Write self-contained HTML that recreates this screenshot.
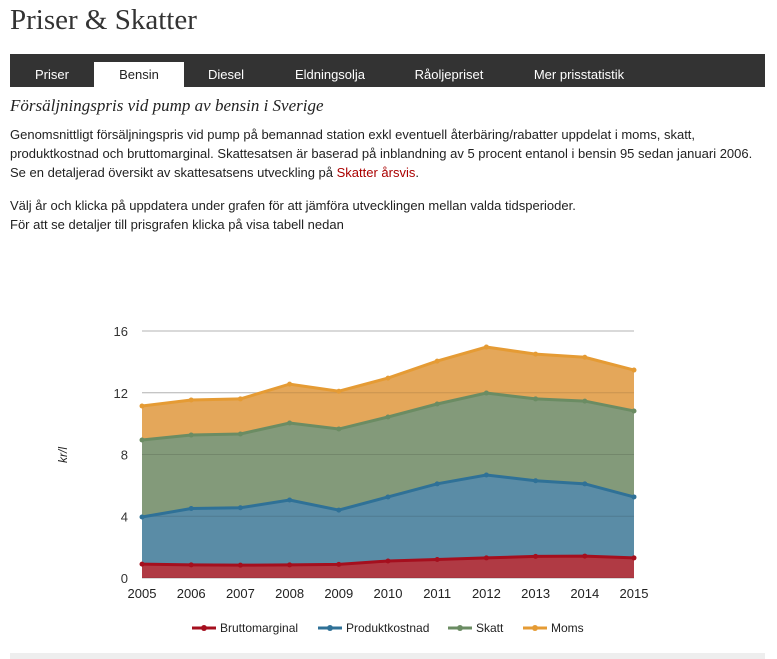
<!DOCTYPE html>
<html><head><meta charset="utf-8"><style>
body{margin:0;width:777px;height:659px;background:#fff;font-family:"Liberation Sans",sans-serif;color:#222;position:relative;overflow:hidden}
h1{position:absolute;left:10px;top:4px;margin:0;font:normal 29px "Liberation Serif",serif;color:#333}
#tabs{position:absolute;left:10px;top:54px;width:755px;height:33px;background:#333}
.tab{position:absolute;top:8px;height:25px;line-height:25px;color:#fff;font-size:13px;text-align:center}
.tab.active{background:#fff;color:#222}
h2{position:absolute;left:10px;top:96px;margin:0;font:italic 17px "Liberation Serif",serif;color:#222}
.p{position:absolute;left:10px;font-size:13px;line-height:19px;color:#222;width:760px}
a{color:#a00;text-decoration:none}
#foot{position:absolute;left:10px;top:653px;width:755px;height:6px;background:#eee}
</style></head><body>
<h1>Priser &amp; Skatter</h1>
<div id="tabs">
<div class="tab" style="left:0;width:84px">Priser</div>
<div class="tab active" style="left:84px;width:90px">Bensin</div>
<div class="tab" style="left:180px;width:72px">Diesel</div>
<div class="tab" style="left:270px;width:100px">Eldningsolja</div>
<div class="tab" style="left:389px;width:100px">Råoljepriset</div>
<div class="tab" style="left:499px;width:140px">Mer prisstatistik</div>
</div>
<h2>Försäljningspris vid pump av bensin i Sverige</h2>
<div class="p" style="top:125px">Genomsnittligt försäljningspris vid pump på bemannad station exkl eventuell återbäring/rabatter uppdelat i moms, skatt, produktkostnad och bruttomarginal. Skattesatsen är baserad på inblandning av 5 procent entanol i bensin 95 sedan januari 2006. Se en detaljerad översikt av skattesatsens utveckling på <a>Skatter årsvis</a>.</div>
<div class="p" style="top:196px">Välj år och klicka på uppdatera under grafen för att jämföra utvecklingen mellan valda tidsperioder.<br>För att se detaljer till prisgrafen klicka på visa tabell nedan</div>
<svg id="chart" width="777" height="659" style="position:absolute;left:0;top:0"></svg>
<div id="foot"></div>
<script>
const years=[2005,2006,2007,2008,2009,2010,2011,2012,2013,2014,2015];
const brutto=[0.9,0.85,0.83,0.85,0.88,1.1,1.2,1.3,1.4,1.42,1.3];
const produkt=[3.05,3.65,3.72,4.2,3.52,4.15,4.9,5.37,4.9,4.68,3.95];
const skatt=[4.99,4.76,4.78,4.99,5.25,5.18,5.17,5.31,5.3,5.36,5.57];
const moms=[2.2,2.27,2.27,2.52,2.45,2.52,2.78,2.98,2.9,2.84,2.65];
const yTicks=[0,4,8,12,16];
const names=["Bruttomarginal","Produktkostnad","Skatt","Moms"];
const fills=["#b03a44","#5a8ca6","#839a7a","#e4a75a"];
const lines=["#a50f1e","#2f7197","#6b8c63","#e59b34"];
const svg=document.getElementById('chart');const NS='http://www.w3.org/2000/svg';
const X=i=>142+i*(634-142)/(years.length-1);
const Y=v=>578-v*(578-331)/16;
function mk(t,a){const e=document.createElementNS(NS,t);for(const k in a)e.setAttribute(k,a[k]);svg.appendChild(e);return e;}
yTicks.forEach(t=>{const g=mk('line',{x1:142,x2:634,y1:Y(t),y2:Y(t),stroke:'#ccc','stroke-width':1});


const l=mk('text',{x:128,y:Y(t)+5,'text-anchor':'end','font-size':13,fill:'#333'});l.textContent=t;

});
const series=[brutto,produkt,skatt,moms];let base=years.map(()=>0);
const layers=[];
series.forEach((s,k)=>{const top=s.map((v,i)=>base[i]+v);layers.push({top,bot:base.slice()});base=top;});
layers.forEach((L,k)=>{let d='M'+years.map((_,i)=>X(i)+','+Y(L.top[i])).join('L');
for(let i=years.length-1;i>=0;i--)d+='L'+X(i)+','+Y(L.bot[i]);d+='Z';
const a=mk('path',{d,fill:fills[k]});

});
yTicks.forEach(t=>{const g=mk('line',{x1:142,x2:634,y1:Y(t),y2:Y(t),stroke:'rgba(0,0,0,0.12)','stroke-width':1});

});
layers.forEach((L,k)=>{const p=mk('polyline',{points:years.map((_,i)=>X(i)+','+Y(L.top[i])).join(' '),fill:'none',stroke:lines[k],'stroke-width':3});


years.forEach((_,i)=>{const c=mk('circle',{cx:X(i),cy:Y(L.top[i]),r:2.5,fill:lines[k]});

});});
years.forEach((yr,i)=>{const t=mk('text',{x:X(i),y:598,'text-anchor':'middle','font-size':13,fill:'#222'});t.textContent=yr;

});
const yl=mk('text',{x:0,y:0,transform:'translate(67,455) rotate(-90)','text-anchor':'middle','font-size':12,'font-style':'italic',fill:'#222'});yl.textContent='kr/l';


const lx=[192,318,448,523];
names.forEach((n,k)=>{const l=mk('line',{x1:lx[k],x2:lx[k]+24,y1:628,y2:628,stroke:lines[k],'stroke-width':3});


const c=mk('circle',{cx:lx[k]+12,cy:628,r:3,fill:lines[k]});


const t=mk('text',{x:lx[k]+28,y:632,'font-size':12,fill:'#222'});t.textContent=n;

});
</script>
</body></html>
